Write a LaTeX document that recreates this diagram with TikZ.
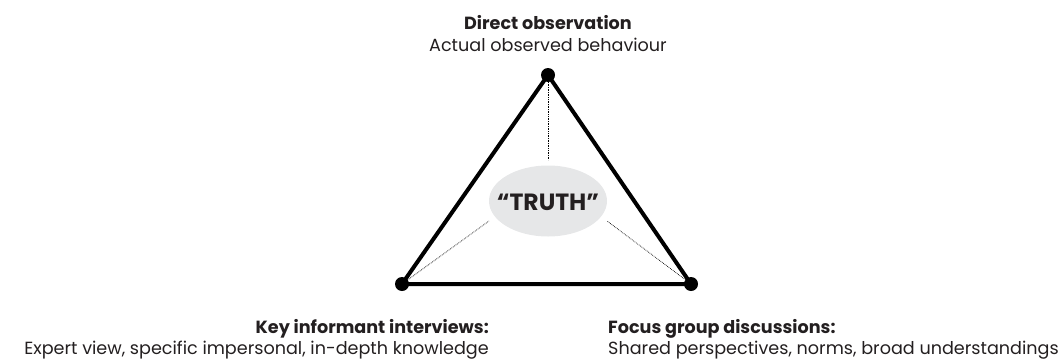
\documentclass[tikz,border=0pt]{standalone}
\usepackage{fontspec}
\setmainfont{Poppins}
\usetikzlibrary{shapes.geometric}
\definecolor{ellgray}{HTML}{E6E7E8}
\definecolor{txt}{HTML}{231F20}
\begin{document}
\begin{tikzpicture}[x=1pt,y=-1pt,
  vdot/.style={circle,fill=black,inner sep=0pt,minimum size=14pt},
  edge/.style={line width=4pt,line join=round},
  dotline/.style={densely dotted,line width=0.7pt},
  title/.style={font=\fontsize{17.6}{20}\selectfont\bfseries,text=txt,inner sep=0pt},
  sub/.style={font=\fontsize{17.6}{20}\selectfont,text=txt,inner sep=0pt}]
\useasboundingbox (0,0) rectangle (1063,359);
\coordinate (T) at (548,75);
\coordinate (L) at (402,284);
\coordinate (R) at (691,284);
\node[ellipse,fill=ellgray,minimum width=118pt,minimum height=71pt,inner sep=0pt] (E) at (548,201) {};
\node[font=\fontsize{23.5}{26}\selectfont\bfseries,text=txt,inner sep=0pt,anchor=base] (truth) at (548,210) {“TRUTH”};
\coordinate (Et) at (548,160);
\coordinate (El) at (489,221);
\coordinate (Er) at (607,221);
\draw[dotline] (T) -- (Et);
\draw[dotline] (L) -- (El);
\draw[dotline] (R) -- (Er);
\draw[edge] (T) -- (L) -- (R) -- cycle;
\node[vdot] (vT) at (T) {};
\node[vdot] (vL) at (L) {};
\node[vdot] (vR) at (R) {};
\node[title,anchor=base] (t1) at (548,29) {Direct observation};
\node[sub,anchor=base] (s1) at (548,51) {Actual observed behaviour};
\node[title,anchor=base east] (t2) at (489,333) {Key informant interviews:};
\node[sub,anchor=base east] (s2) at (489,354) {Expert view, specific impersonal, in-depth knowledge};
\node[title,anchor=base west] (t3) at (608,333) {Focus group discussions:};
\node[sub,anchor=base west] (s3) at (608,354) {Shared perspectives, norms, broad understandings};
\end{tikzpicture}
\end{document}
